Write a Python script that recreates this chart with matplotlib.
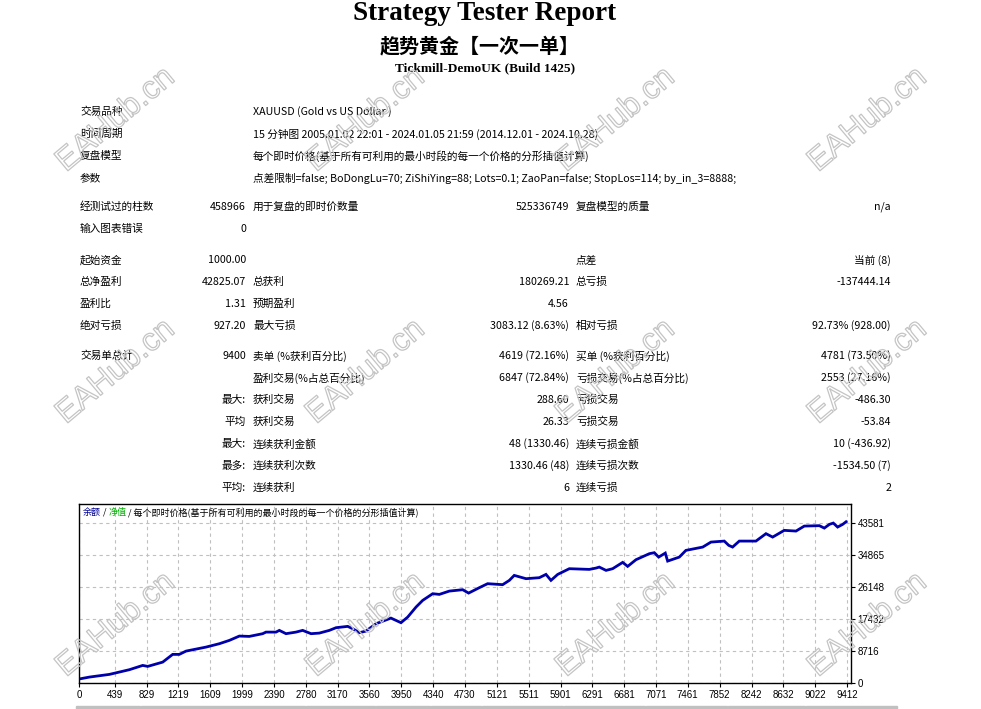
import matplotlib
matplotlib.use("Agg")
import matplotlib.pyplot as plt
import matplotlib.patheffects as pe
from matplotlib.patches import Rectangle

# Datos del informe
titulo = "Strategy Tester Report"
subtitulo = "趋势黄金【一次一单】"
servidor = "Tickmill-DemoUK (Build 1425)"

info_labels = ["交易品种", "时间周期", "复盘模型", "参数"]
info_values = [
    "XAUUSD (Gold vs US Dollar )",
    "15 分钟图 2005.01.02 22:01 - 2024.01.05 21:59 (2014.12.01 - 2024.10.28)",
    "每个即时价格(基于所有可利用的最小时段的每一个价格的分形插值计算)",
    "点差限制=false; BoDongLu=70; ZiShiYing=88; Lots=0.1; ZaoPan=false; StopLos=114; by_in_3=8888;",
]

# (etiqueta1, valor1, etiqueta2, valor2, etiqueta3, valor3)
stats_rows = [
    ["经测试过的柱数", "458966", "用于复盘的即时价数量", "525336749", "复盘模型的质量", "n/a"],
    ["输入图表错误", "0", "", "", "", ""],
    ["起始资金", "1000.00", "", "", "点差", "当前 (8)"],
    ["总净盈利", "42825.07", "总获利", "180269.21", "总亏损", "-137444.14"],
    ["盈利比", "1.31", "预期盈利", "4.56", "", ""],
    ["绝对亏损", "927.20", "最大亏损", "3083.12 (8.63%)", "相对亏损", "92.73% (928.00)"],
    ["交易单总计", "9400", "卖单 (%获利百分比)", "4619 (72.16%)", "买单 (%获利百分比)", "4781 (73.50%)"],
    ["", "", "盈利交易(%占总百分比)", "6847 (72.84%)", "亏损交易(%占总百分比)", "2553 (27.16%)"],
    ["", "最大:", "获利交易", "288.60", "亏损交易", "-486.30"],
    ["", "平均", "获利交易", "26.33", "亏损交易", "-53.84"],
    ["", "最大:", "连续获利金额", "48 (1330.46)", "连续亏损金额", "10 (-436.92)"],
    ["", "最多:", "连续获利次数", "1330.46 (48)", "连续亏损次数", "-1534.50 (7)"],
    ["", "平均:", "连续获利", "6", "连续亏损", "2"],
]

# Curva de balance (número de operación, balance)
trade_no = [0, 127, 372, 617, 781, 842, 1026, 1148, 1229, 1312, 1557, 1720, 1842,
            1965, 2087, 2251, 2291, 2414, 2455, 2537, 2659, 2741, 2844, 2945, 3068,
            3150, 3293, 3354, 3436, 3517, 3640, 3823, 3946, 4028, 4130, 4212, 4335,
            4416, 4538, 4702, 4775, 4906, 5008, 5192, 5274, 5334, 5478, 5641, 5723,
            5784, 5867, 6009, 6254, 6336, 6376, 6459, 6540, 6663, 6724, 6826, 6990,
            7051, 7104, 7185, 7214, 7357, 7438, 7644, 7745, 7908, 7963, 8010, 8092,
            8296, 8419, 8501, 8643, 8787, 8889, 9073, 9134, 9196, 9244, 9297, 9359, 9400]
balance = [1000, 1530, 2260, 3540, 4710, 4440, 5610, 7710, 7710, 8610, 9700, 10620, 11520,
           12700, 12610, 13350, 13780, 13780, 14250, 13350, 13780, 14250, 13350, 13510, 14250,
           14980, 15340, 14710, 13620, 14060, 16070, 17600, 16340, 17870, 20590, 22420, 24240,
           24050, 24950, 25330, 24410, 25880, 26970, 26700, 27870, 29230, 28330, 28600, 29500,
           27870, 29500, 31050, 30860, 31220, 31490, 30590, 31050, 32770, 31680, 33500, 35140,
           35410, 34210, 35300, 33120, 34210, 36040, 36940, 38300, 38570, 37400, 36940, 38570,
           38570, 40590, 39660, 41490, 41300, 42660, 42770, 42110, 43120, 43480, 42390, 43120, 43825]

x_ticks = [0, 439, 829, 1219, 1609, 1999, 2390, 2780, 3170, 3560, 3950, 4340, 4730,
           5121, 5511, 5901, 6291, 6681, 7071, 7461, 7852, 8242, 8632, 9022, 9412]
y_ticks = [0, 8716, 17432, 26148, 34865, 43581]

W, H = 981, 709
CJK = ["Noto Sans CJK SC", "DejaVu Sans"]
SERIF = ["Liberation Serif", "DejaVu Serif"]

fig = plt.figure(figsize=(W / 100, H / 100), dpi=100)


def put(x, y, s, ha="left", size=7.7, **kw):
    kw.setdefault("family", CJK)
    fig.text(x / W, 1 - y / H, s, ha=ha, va="center", fontsize=size, **kw)


# Encabezado
put(485, 14, titulo, ha="center", size=19.5, family=SERIF, weight="bold")
put(480, 46, subtitulo, ha="center", size=14.4, weight="bold")
put(485, 68, servidor, ha="center", size=9.6, family=SERIF, weight="bold")

# Tabla
info_y = [112, 134, 156, 178]
for yy, lab, val in zip(info_y, info_labels, info_values):
    put(80, yy, lab)
    put(253, yy, val)

stats_y = [207, 229, 260, 282, 304, 326, 356, 378, 400, 422, 444, 466, 488]
for yy, fila in zip(stats_y, stats_rows):
    l1, v1, l2, v2, l3, v3 = fila
    put(80, yy, l1)
    put(246, yy, v1, ha="right")
    put(253, yy, l2)
    put(569, yy, v2, ha="right")
    put(576, yy, l3)
    put(891, yy, v3, ha="right")

# Gráfico
ax = fig.add_axes([79 / W, 1 - 682.7 / H, 771.5 / W, 178.4 / H])
ax.plot(trade_no, balance, color="#0000aa", linewidth=2.0, solid_joinstyle="miter")
ax.set_xlim(0, 9455)
ax.set_ylim(0, 48590)
ax.set_xticks(x_ticks)
ax.set_yticks(y_ticks)
ax.set_xticklabels([str(t) for t in x_ticks], family=["Liberation Sans", "DejaVu Sans"], fontsize=7)
ax.set_yticklabels([str(t) for t in y_ticks], family=["Liberation Sans", "DejaVu Sans"], fontsize=7)
ax.yaxis.tick_right()
ax.tick_params(axis="both", direction="out", length=3, width=0.8, pad=2, colors="black")
ax.grid(True, color="#c0c0c0", linestyle=(0, (3, 3)), linewidth=0.8)
for sp in ax.spines.values():
    sp.set_linewidth(1.0)
    sp.set_color("black")

# Leyenda del gráfico
t1 = ax.text(4 / 771.5, 1 - 8 / 178.4, "余额", transform=ax.transAxes, va="center",
             fontsize=6.5, family=CJK, color="#000090")
t2 = ax.annotate(" / ", xy=(1, 0), xycoords=t1, va="bottom", fontsize=6.5, family=CJK, color="black")
t3 = ax.annotate("净值", xy=(1, 0), xycoords=t2, va="bottom", fontsize=6.5, family=CJK, color="#00b000")
ax.annotate(" / 每个即时价格(基于所有可利用的最小时段的每一个价格的分形插值计算)", xy=(1, 0),
            xycoords=t3, va="bottom", fontsize=6.5, family=CJK, color="black")

# Barra gris inferior
cortes = [76, 141, 306, 376, 431, 482, 564, 646, 728, 806, 898]
for a, b in zip(cortes[:-1], cortes[1:]):
    fig.patches.append(Rectangle((a / W, 0), (b - a - 1.5) / W, 3 / H,
                                 transform=fig.transFigure, color="#c0c0c0"))

# Marcas de agua
for cy in [120, 372, 625]:
    for cx in [116, 366, 616, 868]:
        fig.text(cx / W, 1 - cy / H, "EAHub.cn", ha="center", va="center", rotation=40,
                 fontsize=23, family=["Liberation Sans", "DejaVu Sans"], color="none",
                 path_effects=[pe.Stroke(linewidth=0.9, foreground="#c4c4c4")], zorder=10)

fig.savefig("out.png", dpi=100)
